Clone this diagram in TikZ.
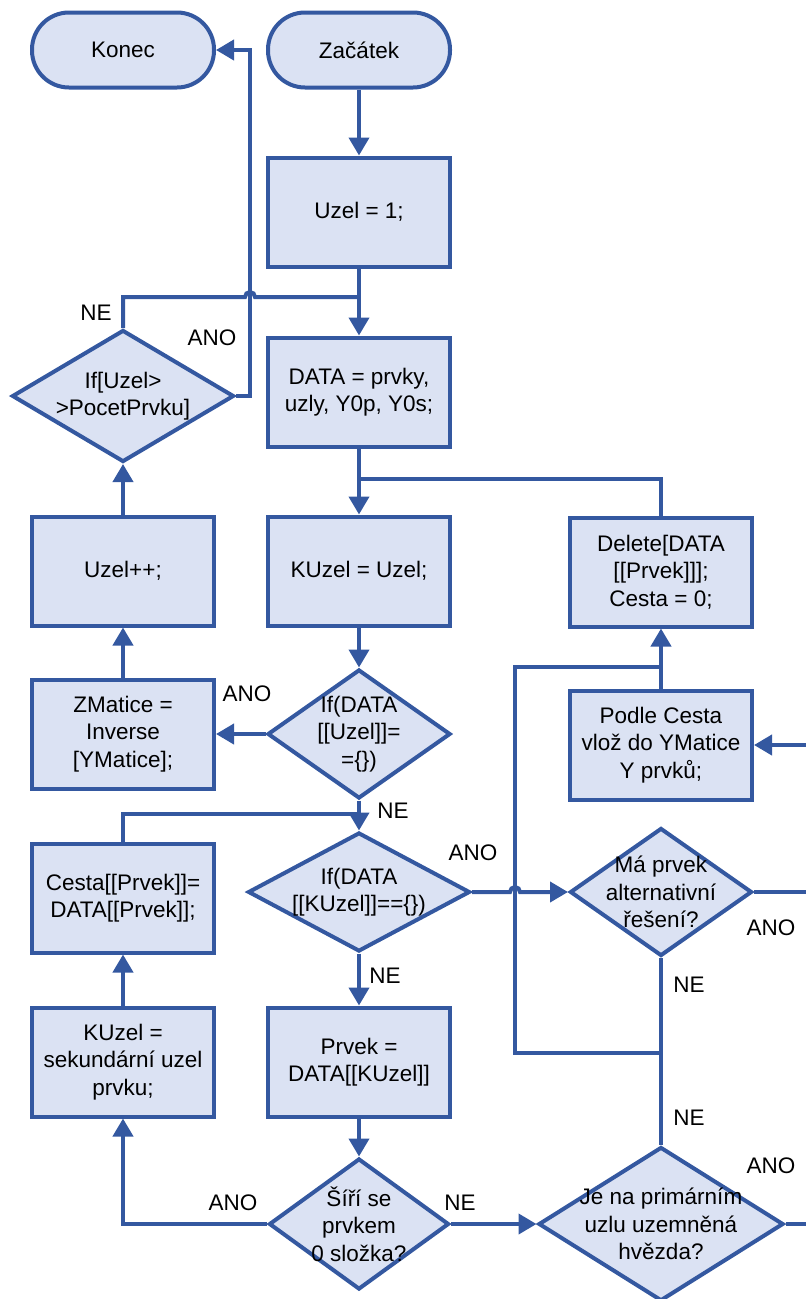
\documentclass[tikz,border=0pt]{standalone}
\usepackage{fontspec}
\setmainfont{Liberation Sans}
\usetikzlibrary{shapes.geometric,arrows.meta}
\definecolor{flowfill}{RGB}{219,226,243}
\definecolor{flowline}{RGB}{52,88,160}
\newcommand{\flowfont}{\fontsize{22.5}{27.5}\selectfont}

\begin{document}
\begin{tikzpicture}[x=1pt,y=-1pt,
		conn/.style={draw=flowline,line width=4pt},
		arr/.style={conn,-{Triangle[length=18pt,width=20pt]}},
		flowbase/.style={draw=flowline,fill=flowfill,line width=4pt,font=\flowfont,align=center,inner sep=0pt},
		term/.style={flowbase,rounded corners=37pt,minimum width=182pt,minimum height=75pt},
		proc/.style={flowbase,minimum width=182pt,minimum height=109pt},
		decide/.style 2 args={flowbase,diamond,minimum width=#1,minimum height=#2},
		dtext/.style={font=\flowfont,align=center,inner sep=0pt},
		lab/.style={font=\flowfont,inner sep=0pt}]
				\useasboundingbox (0,0) rectangle (806,1299);
				% boxes
				\node[term] (konec) at (123,50) {Konec};
				\node[term] (zacatek) at (359,50) {Začátek};
				\node[proc] (uzel) at (359,212) {Uzel = 1;};
				\node[proc] (data) at (359,392) {DATA = prvky,\\uzly, Y0p, Y0s;};
				\node[proc] (kuzel) at (359,571) {KUzel = Uzel;};
				\node[proc] (uzelpp) at (123,571) {Uzel++;};
				\node[proc] (delete) at (661,572) {Delete[DATA\\{[[Prvek]]]};\\Cesta = 0;};
				\node[proc] (zmatice) at (123,734) {ZMatice =\\Inverse\\{[YMatice]};};
				\node[proc] (podle) at (661,745) {Podle Cesta\\vlož do YMatice\\Y prvků;};
				\node[proc] (cesta) at (123,898) {Cesta[[Prvek]]=\\DATA[[Prvek]];};
				\node[proc] (sekund) at (123,1062) {KUzel =\\sekundární uzel\\prvku;};
				\node[proc] (prvek) at (359,1062) {Prvek =\\DATA[[KUzel]]};
				% decisions
				\node[decide={222pt}{132pt},label={[dtext]center:{If[Uzel>\\>PocetPrvku]}}] (ifpocet) at (123,396) {};
				\node[decide={183pt}{129pt},label={[dtext]center:{If(DATA\\{[[Uzel]]=}\\=\{\})}}] (ifuzel) at (359,734) {};
				\node[decide={222pt}{119pt},label={[dtext]center:{If(DATA\\{[[KUzel]]==\{\})}}}] (ifkuzel) at (359,892) {};
				\node[decide={182pt}{128pt},label={[dtext]center:{Má prvek\\alternativní\\řešení?}}] (maalt) at (661,892) {};
				\node[decide={180pt}{131pt},label={[dtext]center:{Šíří se\\prvkem\\0 složka?}}] (siri) at (359,1224) {};
				\node[decide={245pt}{154pt},label={[dtext]center:{Je na primárním\\uzlu uzemněná\\hvězda?}}] (jena) at (661,1224) {};
				% junctions
				\coordinate (kback) at (250,50);
				\coordinate (juzel) at (359,297);
				\coordinate (jdata) at (359,479);
				\coordinate (jcesta) at (359,814);
				\coordinate (jdel) at (661,667);
				\coordinate (jne) at (661,1053);
				\coordinate (rpodle) at (806,745);
				\coordinate (rma) at (806,892);
				\coordinate (rjena) at (806,1224);
				% connectors
				\draw[arr] (zacatek) -- (uzel);
				\draw[arr] (uzel) -- (data);
				\draw[conn] (ifpocet.north) |- (245,297) arc[start angle=180,end angle=0,radius=5pt] -- (juzel);
				\draw[arr] (ifpocet.east) -| (kback) -- (konec.east);
				\draw[arr] (data) -- (kuzel);
				\draw[conn] (delete.north) |- (jdata);
				\draw[arr] (kuzel) -- (ifuzel);
				\draw[arr] (ifuzel) -- (zmatice);
				\draw[arr] (zmatice) -- (uzelpp);
				\draw[arr] (uzelpp) -- (ifpocet);
				\draw[arr] (ifuzel) -- (ifkuzel);
				\draw[conn] (cesta.north) |- (jcesta);
				\draw[arr] (ifkuzel.east) -- (510,892) arc[start angle=180,end angle=0,radius=5pt] -- (maalt.west);
				\draw[arr] (ifkuzel) -- (prvek);
				\draw[arr] (prvek) -- (siri);
				\draw[arr] (siri.west) -| (sekund.south);
				\draw[arr] (sekund) -- (cesta);
				\draw[arr] (siri) -- (jena);
				\draw[conn] (maalt.south) -- (jena.north);
				\draw[conn] (jne) -| (515,667) -- (jdel);
				\draw[arr] (podle) -- (delete);
				\draw[conn] (maalt.east) -- (rma);
				\draw[conn] (jena.east) -- (rjena);
				\draw[arr] (rpodle) -- (podle.east);
				% labels
				\node[lab] (lne1) at (96,313) {NE};
				\node[lab] (lano1) at (212,338) {ANO};
				\node[lab] (lano2) at (247,694) {ANO};
				\node[lab] (lne2) at (393,811) {NE};
				\node[lab] (lano3) at (473,853) {ANO};
				\node[lab] (lne3) at (385,976) {NE};
				\node[lab] (lano4) at (771,928) {ANO};
				\node[lab] (lne4) at (689,985) {NE};
				\node[lab] (lne5) at (689,1118) {NE};
				\node[lab] (lano5) at (771,1166) {ANO};
				\node[lab] (lano6) at (233,1203) {ANO};
				\node[lab] (lne6) at (460,1203) {NE};
			\end{tikzpicture}
\end{document}
